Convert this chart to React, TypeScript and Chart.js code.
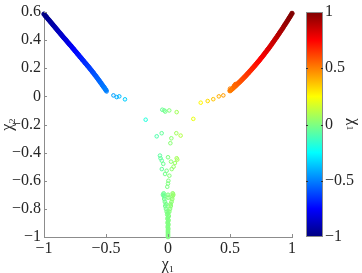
import React, { useEffect, useRef } from "react";
import { Chart, registerables } from "chart.js";
Chart.register(...registerables);

// ---- data ----
const leftBranchChi1 = [-1.0, -0.99, -0.98, -0.97, -0.96, -0.95, -0.94, -0.93, -0.92, -0.91, -0.9, -0.89, -0.88, -0.87, -0.86, -0.85, -0.84, -0.83, -0.82, -0.81, -0.8, -0.79, -0.78, -0.77, -0.76, -0.75, -0.74, -0.73, -0.72, -0.71, -0.7, -0.69, -0.68, -0.67, -0.66, -0.65, -0.64, -0.63, -0.62, -0.61, -0.6, -0.59, -0.58, -0.57, -0.56, -0.55, -0.54, -0.53, -0.52, -0.51, -0.5];
const leftBranchChi2 = [0.585, 0.574, 0.564, 0.553, 0.543, 0.532, 0.522, 0.511, 0.501, 0.49, 0.48, 0.469, 0.459, 0.448, 0.438, 0.427, 0.417, 0.407, 0.397, 0.386, 0.376, 0.366, 0.356, 0.345, 0.335, 0.324, 0.314, 0.303, 0.293, 0.282, 0.272, 0.261, 0.251, 0.24, 0.23, 0.219, 0.209, 0.198, 0.187, 0.176, 0.165, 0.153, 0.142, 0.13, 0.118, 0.106, 0.094, 0.081, 0.069, 0.057, 0.044];

const rightBranchChi1 = [0.5, 0.51, 0.52, 0.53, 0.535, 0.54, 0.545, 0.55, 0.56, 0.57, 0.58, 0.59, 0.6, 0.61, 0.62, 0.63, 0.64, 0.65, 0.66, 0.67, 0.68, 0.69, 0.7, 0.71, 0.72, 0.73, 0.74, 0.75, 0.76, 0.77, 0.78, 0.79, 0.8, 0.81, 0.82, 0.83, 0.84, 0.85, 0.86, 0.87, 0.88, 0.89, 0.9, 0.91, 0.92, 0.93, 0.94, 0.95, 0.96, 0.97, 0.98, 0.99, 1.0];
const rightBranchChi2 = [0.04, 0.047, 0.055, 0.063, 0.074, 0.071, 0.085, 0.079, 0.088, 0.096, 0.104, 0.113, 0.122, 0.131, 0.14, 0.149, 0.159, 0.168, 0.178, 0.188, 0.198, 0.208, 0.218, 0.228, 0.239, 0.249, 0.26, 0.271, 0.282, 0.293, 0.305, 0.316, 0.328, 0.339, 0.351, 0.363, 0.376, 0.388, 0.401, 0.413, 0.426, 0.439, 0.452, 0.465, 0.478, 0.492, 0.506, 0.519, 0.533, 0.547, 0.561, 0.575, 0.59];

const scatterChi1 = [-0.505, -0.495, -0.44, -0.414, -0.393, -0.347, -0.18, 0.5, 0.446, 0.41, 0.365, 0.32, 0.264, 0.204, -0.046, -0.03, -0.022, 0.01, 0.07, -0.091, -0.051, 0.067, 0.102, 0.027, 0.019, -0.065, -0.05, -0.038, -0.06, 0.0, 0.024, 0.056, 0.07, 0.075, -0.05, -0.011, 0.03, -0.024, 0.011, 0.045, 0.003, -0.006, 0.0];
const scatterChi2 = [0.05, 0.035, 0.007, -0.005, 0.0, -0.021, -0.166, 0.055, 0.007, 0.0, -0.02, -0.033, -0.045, -0.16, -0.095, -0.1, -0.108, -0.1, -0.112, -0.284, -0.262, -0.262, -0.279, -0.298, -0.333, -0.421, -0.457, -0.48, -0.44, -0.433, -0.464, -0.474, -0.44, -0.45, -0.517, -0.529, -0.517, -0.552, -0.564, -0.5, -0.6, -0.643, -0.62];

const stemChi1 = [-0.035, -0.032, -0.03, -0.025, -0.016, 0.038, 0.036, 0.034, 0.028, 0.02, 0.003, 0.0, -0.04, 0.042, -0.022, 0.022, -0.016, 0.016, -0.01, 0.01, 0.0, -0.006, 0.006, 0.0, -0.004, 0.004, 0.0, -0.003, 0.003, 0.0, -0.002, 0.002, 0.0, 0.0, 0.0, 0.0, 0.0, 0.0];
const stemChi2 = [-0.69, -0.71, -0.73, -0.75, -0.767, -0.69, -0.71, -0.73, -0.75, -0.767, -0.72, -0.7, -0.7, -0.7, -0.78, -0.78, -0.8, -0.8, -0.82, -0.82, -0.83, -0.84, -0.85, -0.86, -0.87, -0.88, -0.89, -0.9, -0.91, -0.92, -0.93, -0.94, -0.95, -0.96, -0.97, -0.98, -0.99, -1.0];

const xTicks = [-1, -0.5, 0, 0.5, 1];
const yTicks = [-1, -0.8, -0.6, -0.4, -0.2, 0, 0.2, 0.4, 0.6];
const cbTicks = [-1, -0.5, 0, 0.5, 1];

// ---- helpers ----
const clamp = (v: number) => Math.max(0, Math.min(1, v));
function jet(t: number, a = 1) {
  const r = clamp(1.5 - Math.abs(4 * t - 3));
  const g = clamp(1.5 - Math.abs(4 * t - 2));
  const b = clamp(1.5 - Math.abs(4 * t - 1));
  return `rgba(${Math.round(r * 255)},${Math.round(g * 255)},${Math.round(b * 255)},${a})`;
}
const colorOf = (x: number, a = 1) => jet((x + 1) / 2, a);
const fmt = (v: number) => String(Math.round(v * 10) / 10).replace("-", "\u2212");
const pts = (xs: number[], ys: number[]) => xs.map((x, i) => ({ x, y: ys[i] }));

const FONT = "'Liberation Serif', 'DejaVu Serif', serif";
const AXIS_GRAY = "#8c8c8c";
const TEXT = "#262626";

const noPad = (s: any) => { s.paddingTop = 0; s.paddingBottom = 0; s.paddingLeft = 0; s.paddingRight = 0; };

const decor = {
  id: "decor",
  afterDraw(chart: any) {
    const { ctx, chartArea } = chart;
    const xs = chart.scales.x;
    const ys = chart.scales.y;
    ctx.save();
    ctx.strokeStyle = AXIS_GRAY;
    ctx.lineWidth = 1;
    ctx.beginPath();
    xTicks.forEach((v) => {
      const px = Math.round(xs.getPixelForValue(v)) + 0.5;
      ctx.moveTo(px, chartArea.bottom);
      ctx.lineTo(px, chartArea.bottom - 3);
    });
    yTicks.forEach((v) => {
      const py = Math.round(ys.getPixelForValue(v)) + 0.5;
      ctx.moveTo(chartArea.left, py);
      ctx.lineTo(chartArea.left + 3, py);
    });
    ctx.stroke();
    const x0 = chartArea.right + 14;
    const x1 = chartArea.right + 31;
    const top = chartArea.top;
    const bottom = chartArea.bottom;
    const grad = ctx.createLinearGradient(0, bottom, 0, top);
    for (let i = 0; i <= 64; i++) grad.addColorStop(i / 64, jet(i / 64));
    ctx.fillStyle = grad;
    ctx.fillRect(x0, top, x1 - x0, bottom - top);
    ctx.strokeStyle = AXIS_GRAY;
    ctx.strokeRect(x0 + 0.5, top + 0.5, x1 - x0 - 1, bottom - top - 1);
    ctx.strokeStyle = "#333";
    ctx.beginPath();
    cbTicks.slice(1, -1).forEach((v) => {
      const py = Math.round(bottom - ((v + 1) / 2) * (bottom - top)) + 0.5;
      ctx.moveTo(x0, py);
      ctx.lineTo(x0 + 2, py);
      ctx.moveTo(x1, py);
      ctx.lineTo(x1 - 2, py);
    });
    ctx.stroke();
    ctx.restore();
  },
};

export default function App() {
  const ref = useRef<HTMLCanvasElement>(null);
  useEffect(() => {
    if (!ref.current) return;
    const mk = (data: any[], radius: number, fillA: number) => ({
      data,
      pointRadius: radius,
      pointBorderWidth: 1,
      pointBorderColor: (c: any) => colorOf(c.raw.x, 1),
      pointBackgroundColor: (c: any) => colorOf(c.raw.x, fillA),
      showLine: false,
      clip: false as const,
    });
    const chart = new Chart(ref.current, {
      type: "scatter",
      data: {
        datasets: [
          mk(pts(scatterChi1, scatterChi2), 1.8, 0.1),
          mk(pts(stemChi1, stemChi2), 1.9, 0.5),
          mk(pts(leftBranchChi1, leftBranchChi2), 2.2, 1),
          mk(pts(rightBranchChi1, rightBranchChi2), 2.2, 1),
        ] as any,
      },
      options: {
        animation: false,
        responsive: true,
        maintainAspectRatio: false,
        events: [],
        layout: { padding: { top: 12, left: 0, right: 0, bottom: 0 }, autoPadding: false },
        plugins: { legend: { display: false }, tooltip: { enabled: false }, title: { display: false } },
        scales: {
          x: {
            type: "linear",
            position: "bottom",
            min: -1,
            max: 1,
            afterBuildTicks: (s: any) => { s.ticks = xTicks.map((value) => ({ value })); },
            afterFit: (s: any) => { s.height = 36; noPad(s); },
            grid: { display: false, drawTicks: false },
            border: { display: true, color: AXIS_GRAY, width: 1 },
            ticks: { padding: 2, color: TEXT, font: { family: FONT, size: 16 }, callback: (v: any) => fmt(Number(v)), maxRotation: 0, minRotation: 0, autoSkip: false },
            title: { display: true, text: "\u03c7\u2081", color: TEXT, font: { family: FONT, size: 16, lineHeight: 1 }, padding: 0 },
          },
          y: {
            type: "linear",
            position: "left",
            min: -1,
            max: 0.6,
            afterBuildTicks: (s: any) => { s.ticks = yTicks.map((value) => ({ value })); },
            afterFit: (s: any) => { s.width = 44; noPad(s); },
            grid: { display: false, drawTicks: false },
            border: { display: true, color: AXIS_GRAY, width: 1 },
            ticks: { padding: 3, color: TEXT, font: { family: FONT, size: 16 }, callback: (v: any) => fmt(Number(v)), autoSkip: false },
            title: { display: true, text: "\u03c7\u2082", color: TEXT, font: { family: FONT, size: 16, lineHeight: 1 }, padding: 0 },
          },
          cb: {
            type: "linear",
            position: "right",
            min: -1,
            max: 1,
            afterBuildTicks: (s: any) => { s.ticks = cbTicks.map((value) => ({ value })); },
            afterFit: (s: any) => { s.width = 70; noPad(s); },
            grid: { display: false, drawTicks: false },
            border: { display: false },
            ticks: { padding: 33, color: TEXT, font: { family: FONT, size: 16 }, callback: (v: any) => fmt(Number(v)), autoSkip: false },
            title: { display: true, text: "\u03c7\u2081", color: TEXT, font: { family: FONT, size: 16, lineHeight: 1 }, padding: 0 },
          },
        },
      },
      plugins: [decor],
    });
    return () => chart.destroy();
  }, []);
  return (
    <div style={{ position: "fixed", left: 0, top: 0, width: 362, height: 273, background: "#fff" }}>
      <canvas ref={ref} style={{ display: "block" }} />
    </div>
  );
}
